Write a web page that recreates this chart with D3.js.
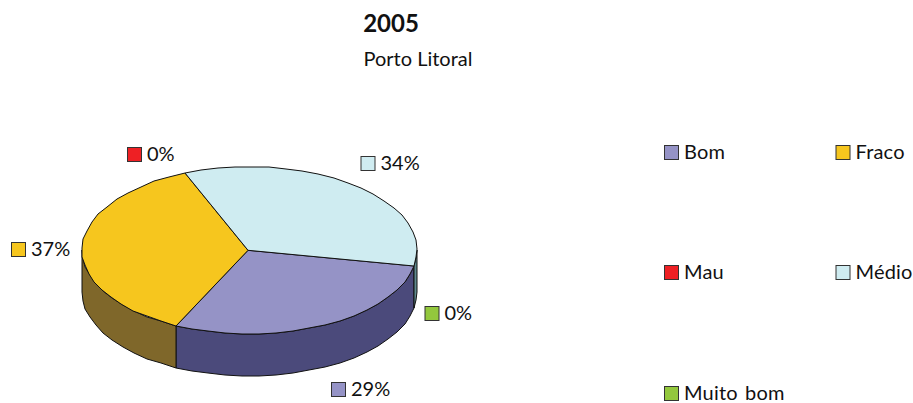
<!DOCTYPE html>
<html><head><meta charset="utf-8">
<script src="https://cdn.jsdelivr.net/npm/d3@7"></script>
<style>html,body{margin:0;background:#fff}svg{display:block}text{font-family:Lato,sans-serif;fill:#111}</style>
</head><body><svg id="c" width="913" height="403"></svg>
<script>
const categories=["Bom","Fraco","Mau","Médio","Muito bom"];
const values=[29.3,36.5,0,34.2,0];
const labels=["29%","37%","0%","34%","0%"];
const topColors=["#9593C6","#F6C61E","#EE2024","#CFECF1","#93C83D"];
const sideColors=["#4B4A7B","#7F672A","#7a1a1c","#5F8A8E","#4a6420"];

const cx=249.5,cy=250.3,rx=167.5,ry=83.7,depth=42;
const apexX=248;
const startDeg=100.5,stepDeg=6;
const svg=d3.select("#c");
const xScale=d3.scaleLinear().domain([-1,1]).range([cx-rx,cx+rx]);
const yScale=d3.scaleLinear().domain([-1,1]).range([cy-ry,cy+ry]);
const rad=Math.PI/180;
const pie=d3.pie().sort(null).value(d=>d).startAngle(startDeg*rad).endAngle((startDeg+360)*rad);
const arcs=pie(values);
const pt=(a,dz=0)=>[Math.round(xScale(Math.sin(a))),Math.round(yScale(-Math.cos(a)))+dz];
const samples=(a0,a1)=>{const n=Math.max(1,Math.ceil((a1-a0)/(stepDeg*rad)));
  return d3.range(n+1).map(i=>a0+(a1-a0)*i/n);};
const pathLine=d3.line().curve(d3.curveLinear);
const strokeCol="#111";

// side walls: only the part facing the viewer (angles 90..270 degrees, mod 360)
const wallG=svg.append("g");
arcs.forEach((d,i)=>{
  if(d.endAngle===d.startAngle)return;
  [[90,270],[450,630]].forEach(([lo,hi])=>{
    const a0=Math.max(d.startAngle,lo*rad),a1=Math.min(d.endAngle,hi*rad);
    if(a1<=a0)return;
    const s=samples(a0,a1);
    wallG.append("path")
      .attr("d",pathLine(s.map(a=>pt(a)).concat(s.slice().reverse().map(a=>pt(a,depth))))+"Z")
      .attr("fill",sideColors[i]).attr("stroke",strokeCol).attr("stroke-width",1).attr("stroke-linejoin","round");
  });
});

// top faces
const topG=svg.append("g");
arcs.forEach((d,i)=>{
  if(d.endAngle===d.startAngle)return;
  const s=samples(d.startAngle,d.endAngle);
  topG.append("path")
    .attr("d",pathLine([[apexX,cy]].concat(s.map(a=>pt(a))))+"Z")
    .attr("fill",topColors[i]).attr("stroke",strokeCol).attr("stroke-width",1).attr("stroke-linejoin","round");
});

// data labels
const labelAnchors=[[331,382],[11,242],[127,147],[360.5,156],[424.5,306]];
const dl=svg.append("g");
arcs.forEach((d,i)=>{
  const [lx,ly]=labelAnchors[i];
  dl.append("rect").attr("x",lx+.5).attr("y",ly+.5).attr("width",14).attr("height",14)
    .attr("fill",topColors[i]).attr("stroke","#333").attr("stroke-width",1);
  dl.append("text").attr("x",lx+20).attr("y",ly+14).attr("font-size",20).text(labels[i]);
});

// legend
const legendCols=[664,835.5],legendRows=[145,265,386];
categories.forEach((c,i)=>{
  const lx=legendCols[i%2],ly=legendRows[Math.floor(i/2)];
  const g=svg.append("g");
  g.append("rect").attr("x",lx+.5).attr("y",ly+.5).attr("width",14).attr("height",14)
    .attr("fill",topColors[i]).attr("stroke","#333").attr("stroke-width",1);
  g.append("text").attr("x",lx+20).attr("y",ly+14).attr("font-size",20).attr("letter-spacing",.2).attr("word-spacing",2).text(c);
});

// titles
svg.append("text").attr("x",391).attr("y",32).attr("text-anchor","middle").attr("font-size",24).attr("font-weight",700).text("2005");
svg.append("text").attr("x",418).attr("y",66).attr("text-anchor","middle").attr("font-size",20).text("Porto Litoral");
</script></body></html>
